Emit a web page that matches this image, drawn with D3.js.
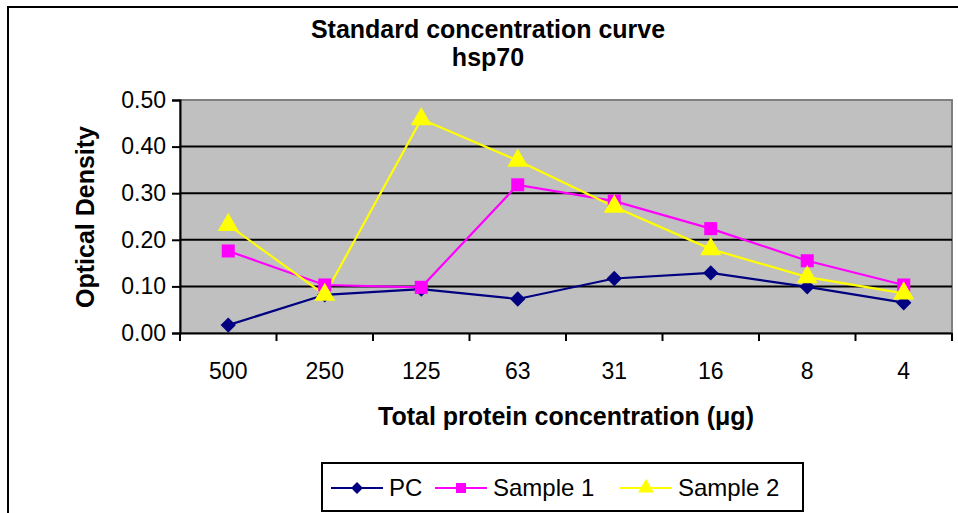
<!DOCTYPE html>
<html><head><meta charset="utf-8">
<script src="https://cdn.jsdelivr.net/npm/d3@7"></script>
<style>body{margin:0;background:#fff}svg{display:block;font-family:"Liberation Sans",Arial,sans-serif}</style>
</head><body>
<svg id="c" width="958" height="513"></svg>
<script>
const categories = ["500","250","125","63","31","16","8","4"];
const pcValues = [0.017,0.082,0.094,0.073,0.117,0.129,0.099,0.065];
const sample1Values = [0.176,0.103,0.098,0.318,0.283,0.224,0.155,0.103];
const sample2Values = [0.232,0.082,0.459,0.370,0.271,0.180,0.120,0.085];
const yTicks = [0,0.1,0.2,0.3,0.4,0.5];
const seriesNames = ["PC","Sample 1","Sample 2"];
const seriesColors = ["#000080","#ff00ff","#ffff00"];
const seriesSymbols = [d3.symbolDiamond2 || d3.symbolDiamond, d3.symbolSquare, d3.symbolTriangle];
const seriesData = [pcValues, sample1Values, sample2Values];

const svg = d3.select("#c");
const L=180, R=952, T=100, B=333;
// outer chart border
svg.append("rect").attr("x",8).attr("y",7).attr("width",1000).attr("height",600)
  .attr("fill","#fff").attr("stroke","#000").attr("stroke-width",2);

const x = d3.scaleBand().domain(categories).range([L,R]).padding(0);
const y = d3.scaleLinear().domain([0,0.5]).range([B,T]);

svg.append("rect").attr("x",L).attr("y",T).attr("width",R-L).attr("height",B-T)
  .attr("fill","#c0c0c0").attr("stroke","#808080").attr("stroke-width",2);

// gridlines
svg.append("g").selectAll("line").data(yTicks.filter(d=>d>0&&d<0.5)).join("line")
  .attr("x1",L).attr("x2",R).attr("y1",d=>y(d)).attr("y2",d=>y(d))
  .attr("stroke","#000").attr("stroke-width",2);

// y axis
const yAxis = svg.append("g").attr("transform",`translate(${L},0)`)
  .call(d3.axisLeft(y).tickValues(yTicks).tickFormat(d3.format(".2f")).tickSize(8).tickPadding(6));
yAxis.select(".domain").attr("stroke","#000").attr("stroke-width",2);
yAxis.selectAll(".tick line").attr("stroke","#000").attr("stroke-width",2);
yAxis.selectAll("text").attr("font-size",23).attr("fill","#000").attr("font-family","Liberation Sans, Arial, sans-serif");

// x axis
const xAxis = svg.append("g").attr("transform",`translate(0,${B})`)
  .call(d3.axisBottom(x).tickSize(0).tickPadding(30));
xAxis.select(".domain").attr("stroke","#000").attr("stroke-width",2);
xAxis.selectAll("text").attr("font-size",23).attr("fill","#000").attr("font-family","Liberation Sans, Arial, sans-serif");
// category boundary ticks
const bounds = categories.map(c=>x(c)).concat([R]);
svg.append("g").selectAll("line").data(bounds).join("line")
  .attr("x1",d=>d).attr("x2",d=>d).attr("y1",B).attr("y2",B+8)
  .attr("stroke","#000").attr("stroke-width",2);

const cx = c => x(c)+x.bandwidth()/2;
const line = d3.line().x((d,i)=>cx(categories[i])).y(d=>y(d));
const symSizes = [150,170,190];
seriesData.forEach((vals,si)=>{
  svg.append("path").datum(vals).attr("d",line).attr("fill","none")
    .attr("stroke",seriesColors[si]).attr("stroke-width",2.2);
});
seriesData.forEach((vals,si)=>{
  svg.append("g").selectAll("path").data(vals).join("path")
    .attr("d",d3.symbol().type(seriesSymbols[si]).size(symSizes[si]))
    .attr("transform",(d,i)=>`translate(${cx(categories[i])},${y(d)})`)
    .attr("fill",seriesColors[si]);
});

// titles
svg.append("text").attr("x",488).attr("y",38).attr("text-anchor","middle")
  .attr("font-size",25).attr("font-weight","bold").text("Standard concentration curve");
svg.append("text").attr("x",488).attr("y",66).attr("text-anchor","middle")
  .attr("font-size",25).attr("font-weight","bold").text("hsp70");

svg.append("text").attr("transform","translate(94,217) rotate(-90)").attr("text-anchor","middle")
  .attr("font-size",25).attr("font-weight","bold").text("Optical Density");
svg.append("text").attr("x",566).attr("y",425).attr("text-anchor","middle")
  .attr("font-size",25).attr("font-weight","bold").text("Total protein concentration (\u03bcg)");

// legend
svg.append("rect").attr("x",322).attr("y",463).attr("width",481).attr("height",48)
  .attr("fill","#fff").attr("stroke","#000").attr("stroke-width",2);
const legX = [331,435,620];
const legendSizes = [90,100,110];
seriesNames.forEach((n,si)=>{
  const g = svg.append("g").attr("transform",`translate(${legX[si]},488)`);
  g.append("line").attr("x1",0).attr("x2",52).attr("stroke",seriesColors[si]).attr("stroke-width",2);
  g.append("path").attr("d",d3.symbol().type(seriesSymbols[si]).size(legendSizes[si]))
    .attr("transform","translate(26,0)").attr("fill",seriesColors[si]);
  g.append("text").attr("x",58).attr("y",8).attr("font-size",24).text(n);
});
</script>
</body></html>
